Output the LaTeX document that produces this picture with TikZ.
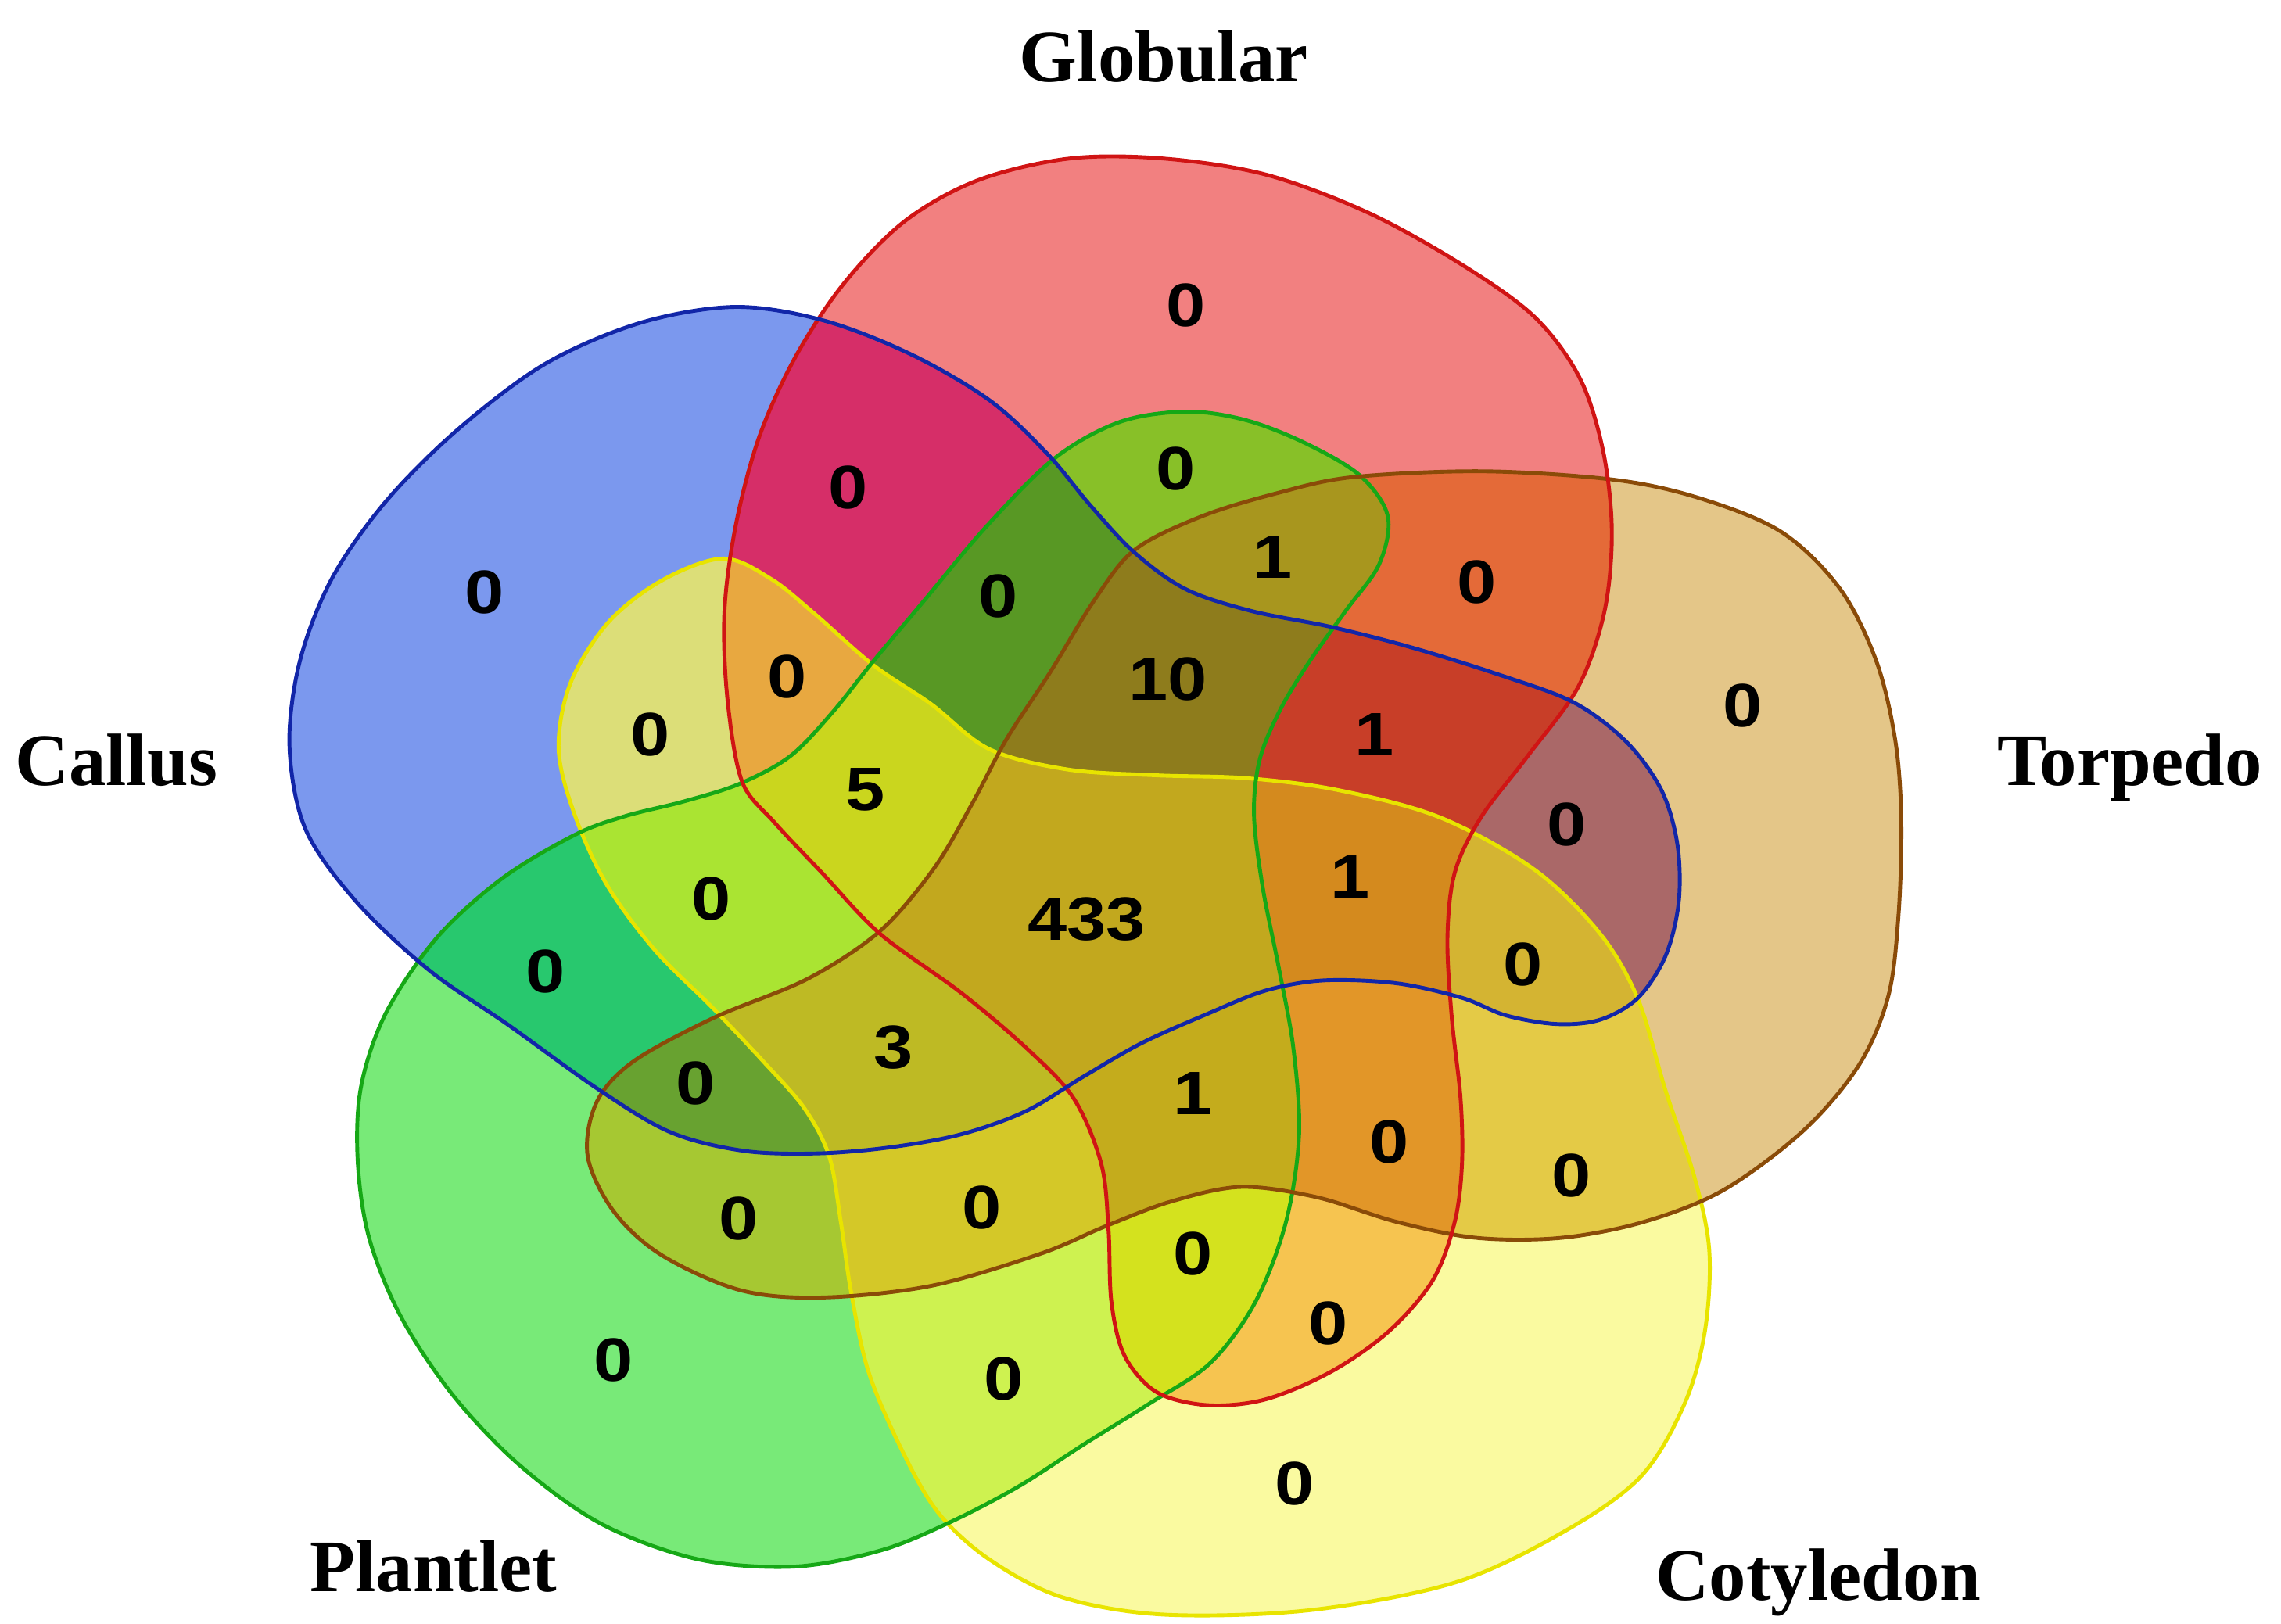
\documentclass[tikz,border=0pt]{standalone}
\usepackage{fontspec}
\setmainfont{Liberation Serif}
\newfontfamily\numfont{Liberation Sans}
% single-set colours
\definecolor{cC}{HTML}{7B98EE}
\definecolor{cG}{HTML}{F28080}
\definecolor{cT}{HTML}{E4C688}
\definecolor{cY}{HTML}{FAFAA0}
\definecolor{cP}{HTML}{78EA78}
% pairs
\definecolor{cCG}{HTML}{D62E68}
\definecolor{cCT}{HTML}{AA6868}
\definecolor{cCY}{HTML}{DCDE78}
\definecolor{cCP}{HTML}{28C86E}
\definecolor{cGT}{HTML}{E46A38}
\definecolor{cGY}{HTML}{F6C450}
\definecolor{cGP}{HTML}{88C028}
\definecolor{cTY}{HTML}{E4CA46}
\definecolor{cTP}{HTML}{A6C832}
\definecolor{cYP}{HTML}{CEF250}
% triples
\definecolor{cCGT}{HTML}{C83E28}
\definecolor{cCGY}{HTML}{E8A840}
\definecolor{cCGP}{HTML}{589824}
\definecolor{cCTY}{HTML}{D4B432}
\definecolor{cCTP}{HTML}{68A230}
\definecolor{cCYP}{HTML}{AAE432}
\definecolor{cGTY}{HTML}{E29628}
\definecolor{cGTP}{HTML}{A8961E}
\definecolor{cGYP}{HTML}{D4E21E}
\definecolor{cTYP}{HTML}{D4C828}
% quadruples
\definecolor{cCGTY}{HTML}{D48A1E}
\definecolor{cCGTP}{HTML}{8E7C1C}
\definecolor{cCGYP}{HTML}{CAD61E}
\definecolor{cCTYP}{HTML}{BEBA24}
\definecolor{cGTYP}{HTML}{C4AC1C}
\definecolor{cAll}{HTML}{C2A81E}
% outline colours
\definecolor{lC}{HTML}{1226A8}
\definecolor{lG}{HTML}{D01414}
\definecolor{lT}{HTML}{8A4B08}
\definecolor{lY}{HTML}{E8E400}
\definecolor{lP}{HTML}{16A816}

\def\shC{plot[smooth cycle,tension=0.55] coordinates {(199,513) (206,455) (228,398) (265,345) (315,295) (375,250) (440,222) (505,211) (565,220) (625,243) (680,275) (720,312) (750,348) (780,380) (815,405) (860,420) (915,431) (970,445) (1031,464) (1082,483) (1118,510) (1142,543) (1153,580) (1154,620) (1145,657) (1126,686) (1100,701) (1070,704) (1035,698) (1005,686) (960,676) (910,674) (870,681) (830,697) (785,717) (745,740) (705,764) (660,780) (610,789) (560,793) (510,791) (460,778) (410,748) (350,705) (295,667) (245,620) (210,570)}}
\def\shG{plot[smooth cycle,tension=0.55] coordinates {(510,537) (500,480) (498,420) (506,360) (522,300) (547,245) (580,195) (622,152) (672,124) (735,109) (800,109) (870,120) (940,146) (1005,182) (1055,218) (1086,260) (1102,310) (1108,365) (1103,420) (1085,472) (1050,520) (1018,562) (1000,600) (995,645) (998,700) (1004,755) (1005,800) (1000,840) (985,880) (955,915) (915,943) (870,962) (830,966) (795,957) (773,932) (764,895) (762,845) (757,800) (738,755) (705,720) (660,682) (605,642) (565,600) (532,565)}}
\def\shT{plot[smooth cycle,tension=0.55] coordinates {(1111,330) (1170,343) (1225,366) (1265,405) (1290,455) (1303,510) (1307,565) (1305,630) (1298,685) (1278,732) (1240,777) (1185,818) (1130,840) (1073,851) (1015,851) (960,840) (905,823) (853,816) (805,826) (760,843) (715,862) (640,884) (565,892) (509,887) (455,863) (422,833) (404,795) (410,758) (435,730) (490,700) (555,673) (605,640) (642,597) (668,553) (692,508) (722,462) (752,413) (780,378) (826,355) (878,339) (930,328) (1020,324)}}
\def\shY{plot[smooth cycle,tension=0.55] coordinates {(497,384) (530,398) (560,422) (600,457) (640,484) (680,515) (734,529) (795,533) (857,535) (919,543) (990,562) (1055,598) (1100,642) (1126,687) (1145,750) (1165,810) (1175,860) (1172,915) (1158,965) (1128,1015) (1075,1053) (1000,1088) (900,1107) (800,1110) (730,1098) (680,1072) (645,1040) (620,997) (597,943) (585,888) (578,840) (570,795) (553,762) (525,730) (490,693) (450,653) (417,608) (395,560) (384,515) (392,470) (418,428) (455,399)}}
\def\shP{plot[smooth cycle,tension=0.55] coordinates {(652,1047) (700,1022) (745,993) (790,965) (832,937) (863,895) (884,840) (893,780) (889,720) (879,665) (868,610) (862,560) (866,522) (880,488) (900,455) (925,420) (948,388) (954,355) (935,327) (898,305) (857,289) (816,283) (770,290) (725,315) (678,362) (636,412) (600,455) (572,490) (543,520) (508,539) (470,551) (430,561) (395,574) (345,604) (300,645) (265,697) (248,748) (246,800) (254,852) (276,906) (312,960) (358,1008) (414,1048) (480,1072) (546,1077) (605,1066)}}

\newcommand\vreg[2]{\begin{scope}#1\fill[fill=#2] (0,0) rectangle (1568,1116);\end{scope}}

\tikzset{
  lab/.style={font=\fontsize{14.5}{16}\selectfont\bfseries, inner sep=0pt, anchor=base},
  num/.style={font=\numfont\fontsize{12}{14}\selectfont\bfseries, inner sep=0pt},
  edge/.style={line width=0.75pt, line join=round}
}
\newcommand\nm[1]{\scalebox{1.15}[1]{#1}}

\begin{document}
\begin{tikzpicture}[x=0.1mm,y=-0.1mm]
\useasboundingbox (0,0) rectangle (1568,1116);
\fill[white] (0,0) rectangle (1568,1116);
% singles
\fill[cC] \shC;
\fill[cG] \shG;
\fill[cT] \shT;
\fill[cY] \shY;
\fill[cP] \shP;
% pairs
\vreg{\clip \shC; \clip \shG;}{cCG}
\vreg{\clip \shC; \clip \shT;}{cCT}
\vreg{\clip \shC; \clip \shY;}{cCY}
\vreg{\clip \shC; \clip \shP;}{cCP}
\vreg{\clip \shG; \clip \shT;}{cGT}
\vreg{\clip \shG; \clip \shY;}{cGY}
\vreg{\clip \shG; \clip \shP;}{cGP}
\vreg{\clip \shT; \clip \shY;}{cTY}
\vreg{\clip \shT; \clip \shP;}{cTP}
\vreg{\clip \shY; \clip \shP;}{cYP}
% triples
\vreg{\clip \shC; \clip \shG; \clip \shT;}{cCGT}
\vreg{\clip \shC; \clip \shG; \clip \shY;}{cCGY}
\vreg{\clip \shC; \clip \shG; \clip \shP;}{cCGP}
\vreg{\clip \shC; \clip \shT; \clip \shY;}{cCTY}
\vreg{\clip \shC; \clip \shT; \clip \shP;}{cCTP}
\vreg{\clip \shC; \clip \shY; \clip \shP;}{cCYP}
\vreg{\clip \shG; \clip \shT; \clip \shY;}{cGTY}
\vreg{\clip \shG; \clip \shT; \clip \shP;}{cGTP}
\vreg{\clip \shG; \clip \shY; \clip \shP;}{cGYP}
\vreg{\clip \shT; \clip \shY; \clip \shP;}{cTYP}
% quadruples
\vreg{\clip \shC; \clip \shG; \clip \shT; \clip \shY;}{cCGTY}
\vreg{\clip \shC; \clip \shG; \clip \shT; \clip \shP;}{cCGTP}
\vreg{\clip \shC; \clip \shG; \clip \shY; \clip \shP;}{cCGYP}
\vreg{\clip \shC; \clip \shT; \clip \shY; \clip \shP;}{cCTYP}
\vreg{\clip \shG; \clip \shT; \clip \shY; \clip \shP;}{cGTYP}
% all five
\vreg{\clip \shC; \clip \shG; \clip \shT; \clip \shY; \clip \shP;}{cAll}
% outlines
\draw[edge, draw=lY] \shY;
\draw[edge, draw=lP] \shP;
\draw[edge, draw=lT] \shT;
\draw[edge, draw=lG] \shG;
\draw[edge, draw=lC] \shC;
% set labels
\node[lab] (tGlob) at (800,56) {Globular};
\node[lab] (tCall) at (80,540) {Callus};
\node[lab] (tTorp) at (1464,540) {Torpedo};
\node[lab] (tPlan) at (298,1094) {Plantlet};
\node[lab] (tCoty) at (1250,1100) {Cotyledon};
% region counts
\node[num] (nG) at (815,210) {\nm{0}};
\node[num] (nC) at (333,407) {\nm{0}};
\node[num] (nT) at (1198,485) {\nm{0}};
\node[num] (nY) at (890,1020) {\nm{0}};
\node[num] (nP) at (422,935) {\nm{0}};
\node[num] (nCG) at (583,335) {\nm{0}};
\node[num] (nGP) at (808,322) {\nm{0}};
\node[num] (nGTP) at (875,383) {\nm{1}};
\node[num] (nGT) at (1015,400) {\nm{0}};
\node[num] (nCGP) at (686,410) {\nm{0}};
\node[num] (nCGTP) at (803,467) {\nm{10}};
\node[num] (nCGT) at (945,505) {\nm{1}};
\node[num] (nCT) at (1077,567) {\nm{0}};
\node[num] (nCGY) at (541,465) {\nm{0}};
\node[num] (nCY) at (447,505) {\nm{0}};
\node[num] (nCGYP) at (595,543) {\nm{5}};
\node[num] (nCGTY) at (928,603) {\nm{1}};
\node[num] (nAll) at (747,632) {\nm{433}};
\node[num] (nCTY) at (1047,663) {\nm{0}};
\node[num] (nCYP) at (489,618) {\nm{0}};
\node[num] (nCP) at (375,668) {\nm{0}};
\node[num] (nCTP) at (478,745) {\nm{0}};
\node[num] (nCTYP) at (614,720) {\nm{3}};
\node[num] (nGTYP) at (820,752) {\nm{1}};
\node[num] (nGTY) at (955,785) {\nm{0}};
\node[num] (nTY) at (1080,808) {\nm{0}};
\node[num] (nTP) at (508,838) {\nm{0}};
\node[num] (nTYP) at (675,830) {\nm{0}};
\node[num] (nGYP) at (820,862) {\nm{0}};
\node[num] (nGY) at (913,910) {\nm{0}};
\node[num] (nYP) at (690,948) {\nm{0}};
\end{tikzpicture}
\end{document}
